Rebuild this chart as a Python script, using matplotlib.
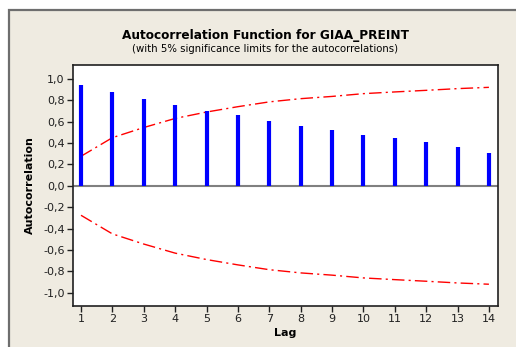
import matplotlib.pyplot as plt
import matplotlib.patches as patches

lags = list(range(1, 15))
acf = [0.94, 0.88, 0.81, 0.755, 0.70, 0.664, 0.61, 0.56, 0.526, 0.476, 0.445, 0.41, 0.36, 0.307]
limit = [0.276, 0.45, 0.545, 0.63, 0.69, 0.74, 0.785, 0.815, 0.836, 0.862, 0.878, 0.893, 0.909, 0.921]
yticks = [-1.0, -0.8, -0.6, -0.4, -0.2, 0.0, 0.2, 0.4, 0.6, 0.8, 1.0]

W, H = 516, 347
fig = plt.figure(figsize=(W / 100, H / 100), dpi=100)
fig.patch.set_facecolor("white")

# beige panel with gray frame on top/left
frame = patches.Rectangle((9 / W, -0.1), 1.2, 1 - 10 / H + 0.1, transform=fig.transFigure,
                          facecolor="#efebe1", edgecolor="#6e6e6e", linewidth=1.6, zorder=-1)
fig.patches.append(frame)

ax = fig.add_axes([73 / W, 1 - 305.5 / H, (498 - 73) / W, (305.5 - 65) / H])
ax.set_facecolor("white")

ax.vlines(lags, 0, acf, color="#0000ff", linewidth=3, zorder=3)
ax.axhline(0, color="#808080", linewidth=1.5, zorder=2)
ax.plot(lags, limit, color="red", linestyle=(0, (9, 3, 1.5, 3)), linewidth=1)
ax.plot(lags, [-v for v in limit], color="red", linestyle=(0, (9, 3, 1.5, 3)), linewidth=1)

ax.set_xlim(0.745, 14.29)
ax.set_ylim(-1.12, 1.13)
ax.set_xticks(lags)
ax.set_xticklabels([str(l) for l in lags])
ax.set_yticks(yticks)
ax.set_yticklabels([f"{v:.1f}".replace(".", ",") for v in yticks])
ax.tick_params(direction="out", length=4, width=1, labelsize=8, colors="#202020", pad=2)
for s in ax.spines.values():
    s.set_color("#202020")
    s.set_linewidth(1.2)

ax.set_xlabel("Lag", fontsize=8, fontweight="bold", labelpad=3)
ax.set_ylabel("Autocorrelation", fontsize=8, fontweight="bold", labelpad=6)

fig.text(265 / W, 1 - 35 / H, "Autocorrelation Function for GIAA_PREINT",
         ha="center", va="center", fontsize=8.7, fontweight="bold")
fig.text(265 / W, 1 - 49 / H, "(with 5% significance limits for the autocorrelations)",
         ha="center", va="center", fontsize=7.3)

fig.savefig("out.png", dpi=100)
